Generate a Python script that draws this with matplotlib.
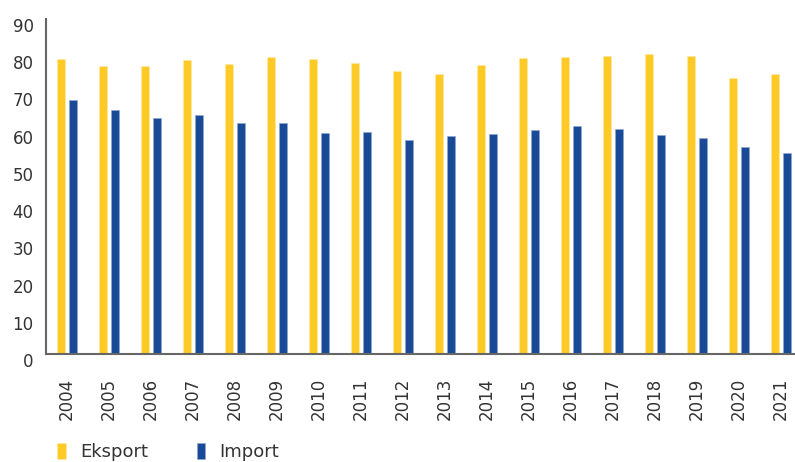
import matplotlib.pyplot as plt
import matplotlib.transforms as mtransforms
import numpy as np

years = [str(y) for y in range(2004, 2022)]
eksport = [79.2, 77.3, 77.5, 79.0, 78.0, 79.8, 79.2, 78.1, 76.1, 75.2,
           77.6, 79.5, 79.9, 80.1, 80.7, 80.1, 74.1, 75.2]
impor = [68.3, 65.6, 63.3, 64.2, 62.0, 62.0, 59.5, 59.7, 57.5, 58.5,
         59.1, 60.1, 61.2, 60.4, 58.8, 58.1, 55.5, 54.0]

yellow = '#FFC926'
blue = '#184A98'
txt = '#333333'

fig = plt.figure(figsize=(7.95, 4.62), dpi=100)
ax = fig.add_axes([46/795, 108/462, 756/795, 335/462])

x = np.arange(len(years))
w = 0.19
ax.bar(x - 0.135, eksport, w, color=yellow, edgecolor='#FFE9A8', linewidth=0.4, label='Eksport')
ax.bar(x + 0.135, impor, w, color=blue, edgecolor='#8FA6CF', linewidth=0.4, label='Import')

ax.set_xlim(-0.5, len(years) - 0.5)
ax.set_ylim(0, 90)
ax.set_yticks(range(0, 91, 10))
ax.set_xticks(x)
ax.set_xticklabels(years, rotation=90, fontsize=12, color=txt)
ax.tick_params(axis='x', length=0, pad=17)
ax.tick_params(axis='y', length=0, pad=9, labelsize=12, labelcolor=txt)

# y labels sit a little below their values in the original
off = mtransforms.ScaledTranslation(0, -6/100, fig.dpi_scale_trans)
for lab in ax.get_yticklabels():
    lab.set_transform(lab.get_transform() + off)

for s in ['top', 'right']:
    ax.spines[s].set_visible(False)
for s in ['left', 'bottom']:
    ax.spines[s].set_color('#666666')
    ax.spines[s].set_linewidth(1.5)

leg = fig.legend(loc='center left', bbox_to_anchor=(57/795, 10/462), ncol=2,
                 frameon=False, fontsize=13, handlelength=0.48, handleheight=0.95,
                 handletextpad=0.78, columnspacing=2.7, borderpad=0, borderaxespad=0)
for t in leg.get_texts():
    t.set_color(txt)

fig.savefig('out.png', dpi=100)
